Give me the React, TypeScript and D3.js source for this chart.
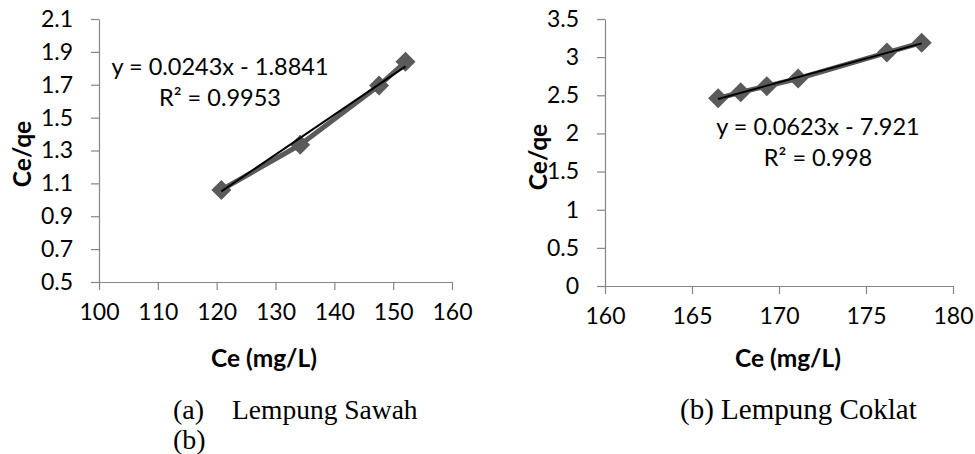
import React, { useEffect, useRef } from 'react';
import * as d3 from 'd3';

// Lempung Sawah
const sawahCe = [120.8, 134.2, 147.6, 152.1];
const sawahRatio = [1.06, 1.335, 1.695, 1.84];
const sawahFit = [0.0243, -1.8841];
const sawahXTicks = [100, 110, 120, 130, 140, 150, 160];
const sawahYTicks = [0.5, 0.7, 0.9, 1.1, 1.3, 1.5, 1.7, 1.9, 2.1];

// Lempung Coklat
const coklatCe = [166.5, 167.8, 169.3, 171.1, 176.2, 178.2];
const coklatRatio = [2.46, 2.54, 2.62, 2.72, 3.06, 3.19];
const coklatFit = [0.0623, -7.921];
const coklatXTicks = [160, 165, 170, 175, 180];
const coklatYTicks = [0, 0.5, 1, 1.5, 2, 2.5, 3, 3.5];

const eqLabels = ['y = 0.0243x - 1.8841', 'y = 0.0623x - 7.921'];
const r2Labels = ['R² = 0.9953', 'R² = 0.998'];

const FONT = 'Lato, Carlito, Calibri, sans-serif';
const AXIS_GRAY = '#868686';
const SERIES_GRAY = '#5a5a5a';

type Panel = {
    xs: number[];
    ys: number[];
    fit: number[];
    xTicks: number[];
    yTicks: number[];
    yFmt: (d: number) => string;
    xRange: [number, number];
    yRange: [number, number];
    eq: string;
    r2: string;
    eqPos: [number, number];
    xTitlePos: [number, number];
    yTitlePos: [number, number];
};

const panels: Panel[] = [
    {
        xs: sawahCe, ys: sawahRatio, fit: sawahFit,
        xTicks: sawahXTicks, yTicks: sawahYTicks,
        yFmt: d3.format('.1f'),
        xRange: [99, 452], yRange: [282, 19],
        eq: eqLabels[0], r2: r2Labels[0],
        eqPos: [220, 75],
        xTitlePos: [264, 367],
        yTitlePos: [31, 154],
    },
    {
        xs: coklatCe, ys: coklatRatio, fit: coklatFit,
        xTicks: coklatXTicks, yTicks: coklatYTicks,
        yFmt: (d: number) => String(d),
        xRange: [605, 953], yRange: [286, 19],
        eq: eqLabels[1], r2: r2Labels[1],
        eqPos: [818, 135],
        xTitlePos: [788, 367],
        yTitlePos: [547, 157],
    },
];

const App: React.FC = () => {
    const svgRef = useRef<SVGSVGElement | null>(null);

    useEffect(() => {
        const svg = d3.select(svgRef.current);
        svg.selectAll('*').remove();

        panels.forEach(p => {
            const x = d3.scaleLinear()
                .domain(d3.extent(p.xTicks) as [number, number])
                .range(p.xRange);
            const y = d3.scaleLinear()
                .domain(d3.extent(p.yTicks) as [number, number])
                .range(p.yRange);

            const g = svg.append('g');

            // axes
            const yAxis = g.append('g')
                .attr('transform', `translate(${p.xRange[0]},0)`)
                .call(d3.axisLeft(y).tickValues(p.yTicks).tickFormat(p.yFmt as any)
                    .tickSize(8).tickSizeOuter(0).tickPadding(18));
            const xAxis = g.append('g')
                .attr('transform', `translate(0,${p.yRange[0]})`)
                .call(d3.axisBottom(x).tickValues(p.xTicks).tickFormat(d3.format('d') as any)
                    .tickSize(8).tickSizeOuter(0).tickPadding(14));

            [xAxis, yAxis].forEach(a => {
                a.selectAll('path, line').attr('stroke', AXIS_GRAY).attr('stroke-width', 1.2);
                a.selectAll('text')
                    .attr('fill', '#000')
                    .style('font-family', FONT)
                    .style('font-size', '23px');
            });

            // series line
            const pts = p.xs.map((v, i) => [v, p.ys[i]] as [number, number]);
            g.append('path')
                .datum(pts)
                .attr('fill', 'none')
                .attr('stroke', SERIES_GRAY)
                .attr('stroke-width', 5)
                .attr('stroke-linejoin', 'round')
                .attr('d', d3.line().x(d => x(d[0])).y(d => y(d[1])));

            // markers
            const sym = d3.symbol().type(d3.symbolSquare).size(200);
            g.selectAll('.mk')
                .data(pts)
                .enter()
                .append('path')
                .attr('transform', d => `translate(${x(d[0])},${y(d[1])}) rotate(45)`)
                .attr('d', sym() as string)
                .attr('fill', SERIES_GRAY);

            // linear trendline
            const [x0, x1] = d3.extent(p.xs) as [number, number];
            const trend: [number, number][] = [x0, x1].map(v => [v, p.fit[0] * v + p.fit[1]]);
            g.append('path')
                .datum(trend)
                .attr('fill', 'none')
                .attr('stroke', '#000')
                .attr('stroke-width', 2)
                .attr('d', d3.line().x(d => x(d[0])).y(d => y(d[1])));

            // equation
            g.append('text')
                .attr('x', p.eqPos[0]).attr('y', p.eqPos[1])
                .attr('text-anchor', 'middle')
                .style('font-family', FONT).style('font-size', '23.5px')
                .text(p.eq);
            g.append('text')
                .attr('x', p.eqPos[0]).attr('y', p.eqPos[1] + 31)
                .attr('text-anchor', 'middle')
                .style('font-family', FONT).style('font-size', '23.5px')
                .text(p.r2);

            // titles
            g.append('text')
                .attr('x', p.xTitlePos[0]).attr('y', p.xTitlePos[1])
                .attr('text-anchor', 'middle')
                .style('font-family', FONT).style('font-size', '24.5px').style('font-weight', 'bold')
                .text('Ce (mg/L)');
            g.append('text')
                .attr('transform', `translate(${p.yTitlePos[0]},${p.yTitlePos[1]}) rotate(-90)`)
                .attr('text-anchor', 'middle')
                .style('font-family', FONT).style('font-size', '24.5px').style('font-weight', 'bold')
                .text('Ce/qe');
        });

        // captions
        const cap = (tx: number, ty: number, s: string, size: number) => svg.append('text')
            .attr('x', tx).attr('y', ty)
            .style('font-family', '"Liberation Serif", "Times New Roman", serif')
            .style('font-size', `${size}px`)
            .text(s);
        cap(173, 419, '(a)', 28);
        cap(232, 419, 'Lempung Sawah', 27.5);
        cap(173, 449, '(b)', 28);
        cap(680, 419, '(b) Lempung Coklat', 29);
    }, []);

    return (
        <svg ref={svgRef} width={975} height={454}
            style={{ position: 'absolute', left: 0, top: 0, background: '#fff' }} />
    );
};

export default App;
